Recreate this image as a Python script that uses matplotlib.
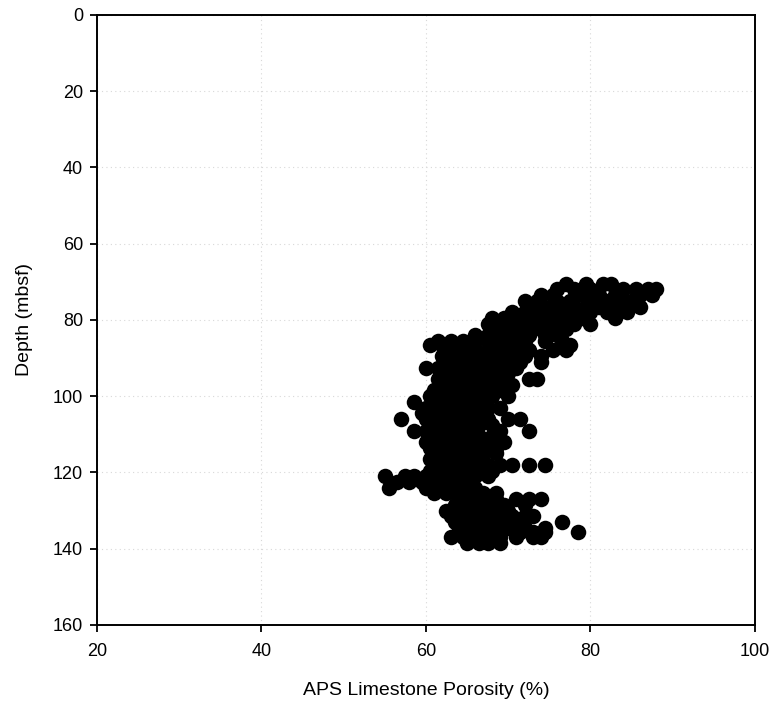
import numpy as np
import matplotlib.pyplot as plt

plt.rcParams['font.family'] = ['Liberation Sans', 'DejaVu Sans']

# porosity readings (%) grouped by depth (mbsf)
depth_rows = [70.5, 72, 73.5, 75, 76.5, 78, 79.5, 81, 82.5, 84,
              85.5, 86.5, 88, 89.5, 91, 92.5, 94, 95.5, 97, 98.5,
              100, 101.5, 103, 104.5, 106, 107.5, 109, 110.5, 112, 113.5,
              115, 116.5, 118, 119.5, 121, 122.5, 124, 125.5, 127, 128.5,
              130, 131.5, 133, 134.5, 135.5, 137, 138.5]
porosity_rows = [
    [77, 79.5, 81.5, 82.5],
    [76, 78, 80, 84, 85.5, 87, 88],
    [74, 75.5, 79, 81, 83, 86, 87.5],
    [72, 73.5, 76, 77.5, 80.5, 82, 84, 85],
    [73, 75, 78, 79.5, 81, 83, 86],
    [70.5, 72, 74, 76.5, 78.5, 80, 82, 84.5],
    [68, 69.5, 71, 73, 75, 77, 79, 83],
    [67.5, 69, 70.5, 72.5, 74, 76, 78, 80],
    [68, 69.5, 71.5, 73, 75, 77],
    [66, 67.5, 69.5, 71, 72.5, 74.5, 76],
    [61.5, 63, 64.5, 66, 67.5, 69, 70.5, 72, 74.5, 76.5],
    [60.5, 62, 65, 68, 71, 77.5],
    [63, 64.5, 66, 67.5, 69, 70.5, 72.5, 75.5, 77],
    [62, 64, 65.5, 67, 68.5, 70, 72, 74],
    [63, 65, 66.5, 68, 69.5, 71.5, 74],
    [60, 61.5, 64.5, 66, 67.5, 69, 71],
    [62.5, 64, 65.5, 67, 68.5, 70],
    [61.5, 63, 64.5, 66, 67.5, 69, 72.5, 73.5],
    [62, 63.5, 65, 66.5, 68, 70.5],
    [61, 63, 64.5, 66, 67.5, 69],
    [60.5, 62, 63.5, 65, 66.5, 68, 70],
    [58.5, 61, 62.5, 64, 65.5, 67],
    [60, 61.5, 63, 64.5, 66, 67.5, 69],
    [59.5, 61, 62.5, 64, 65.5, 67],
    [57, 60, 61.5, 63, 64.5, 66, 67.5, 70, 71.5],
    [60.5, 62, 63.5, 65, 66.5, 68],
    [58.5, 60, 61.5, 63, 64.5, 66, 69, 72.5],
    [60.5, 62, 63.5, 65, 66.5, 68],
    [60, 61.5, 63, 64.5, 66, 67.5, 69.5],
    [60.5, 62, 63.5, 65, 66.5, 68.5],
    [61, 62.5, 64, 65.5, 67, 68.5],
    [60.5, 62, 63.5, 65, 66.5],
    [61, 63, 64.5, 66, 67.5, 69, 70.5, 72.5, 74.5],
    [60.5, 62, 63.5, 65, 66.5, 68],
    [55, 57.5, 58.5, 60, 61.5, 63, 64.5, 66, 67.5],
    [56.5, 58, 59.5, 61, 62.5, 64, 65.5],
    [55.5, 60, 61.5, 63, 64.5, 66],
    [61, 62.5, 64, 65.5, 67, 68.5],
    [64, 65.5, 67, 68.5, 71, 72.5, 74],
    [63.5, 65, 66.5, 68, 69.5, 72],
    [62.5, 64, 65.5, 67, 68.5, 70],
    [63, 64.5, 66, 67.5, 69, 70.5, 72, 73],
    [63.5, 65, 66.5, 68, 69.5, 71.5, 76.5],
    [64, 65.5, 67, 68.5, 70, 72, 74.5],
    [65, 66.5, 68, 71.5, 73, 74.5, 78.5],
    [63, 64.5, 66, 67.5, 69, 71, 73, 74],
    [65, 66.5, 67.5, 69],
]

x_ticks = [20, 40, 60, 80, 100]
y_ticks = [0, 20, 40, 60, 80, 100, 120, 140, 160]

porosity = np.concatenate([np.array(r, dtype=float) for r in porosity_rows])
depth = np.concatenate([np.full(len(r), d) for d, r in zip(depth_rows, porosity_rows)])

fig = plt.figure(figsize=(7.75, 7.09), dpi=100)
ax = fig.add_axes([0.125, 0.1185, 0.849, 0.8605])

ax.scatter(porosity, depth, s=125, c='black', linewidths=0, zorder=3)

ax.set_xlim(20, 100)
ax.set_ylim(160, 0)
ax.set_xticks(x_ticks)
ax.set_yticks(y_ticks)
ax.grid(True, color='#d8d8d8', linestyle=(0, (1, 3)), linewidth=0.8)
for s in ax.spines.values():
    s.set_linewidth(1.4)
ax.tick_params(direction='out', length=5, width=1.3, labelsize=13, pad=5)
ax.tick_params(axis='x', pad=8)

ax.set_xlabel('APS Limestone Porosity (%)', fontsize=14, labelpad=16)
ax.set_ylabel('Depth (mbsf)', fontsize=14, labelpad=14)

plt.savefig('out.png', dpi=100)
